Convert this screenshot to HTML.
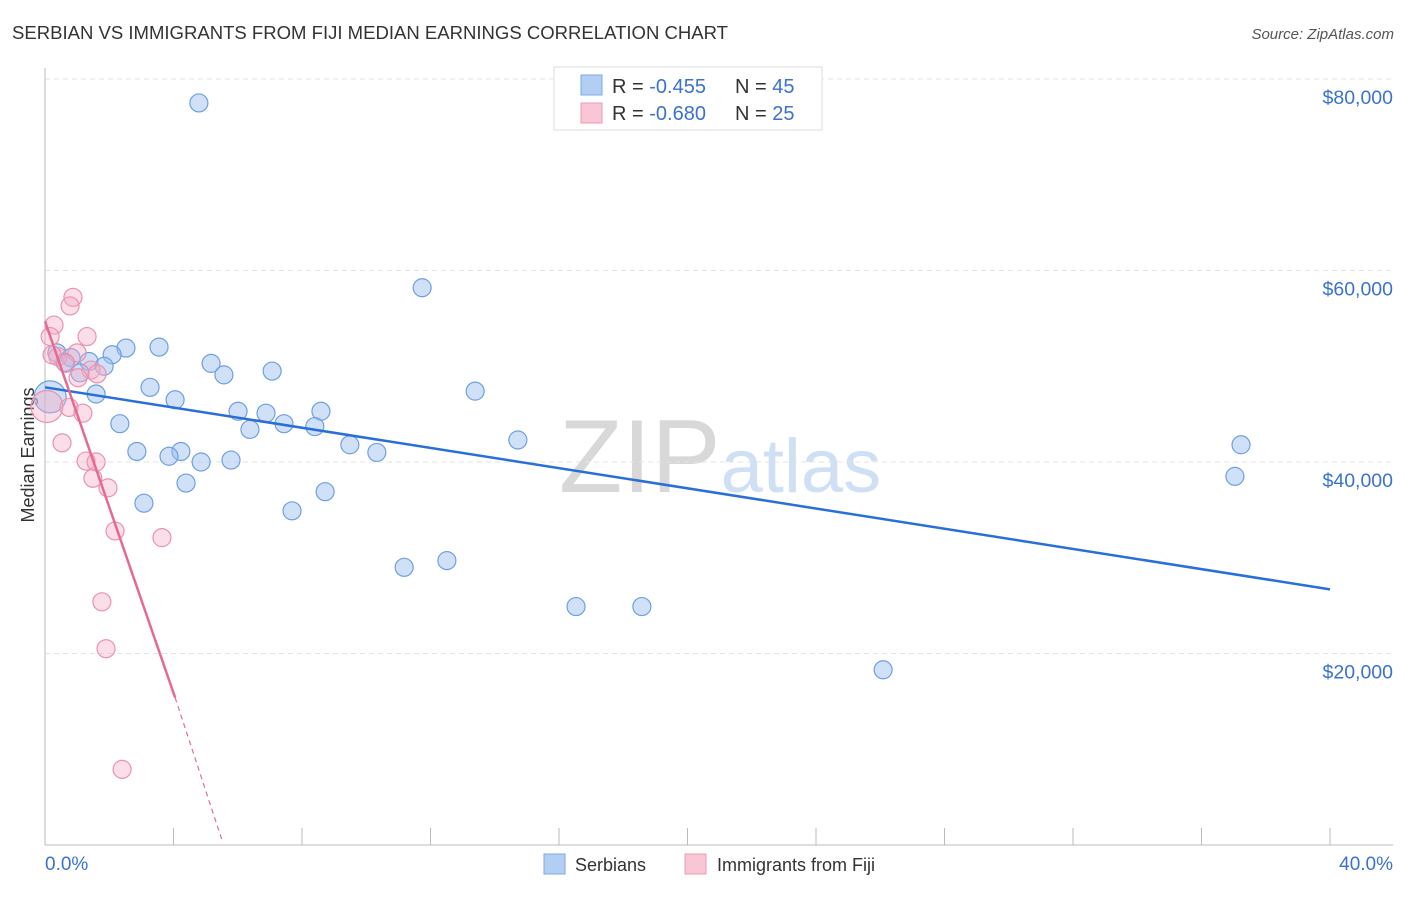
<!DOCTYPE html>
<html><head><meta charset="utf-8"><style>
body{margin:0;background:#fff;font-family:"Liberation Sans",sans-serif}
svg text{font-family:"Liberation Sans",sans-serif}
</style></head><body>
<svg id="c" width="1406" height="892" xmlns="http://www.w3.org/2000/svg">
<text x="12" y="39" font-size="18" fill="#333" textLength="716" lengthAdjust="spacingAndGlyphs">SERBIAN VS IMMIGRANTS FROM FIJI MEDIAN EARNINGS CORRELATION CHART</text>
<text x="1394" y="39" font-size="15" fill="#555" text-anchor="end" font-style="italic">Source: ZipAtlas.com</text>
<text x="720" y="492" font-size="104" text-anchor="middle" fill="#ddd" font-family="Liberation Serif"><tspan fill="#d8d8d8">ZIP</tspan><tspan fill="#cfe0f5" font-family="Liberation Sans" font-size="76">atlas</tspan></text>
<text transform="translate(34,455) rotate(-90)" font-size="18" fill="#333" text-anchor="middle">Median Earnings</text>
<g id="grid"></g><g id="marks"></g>
<g>
<rect x="554" y="67" width="268" height="63" fill="#fff" stroke="#ddd"/>
<rect x="581" y="75" width="21" height="20" fill="#b3cef3" stroke="#7ea8e6"/>
<text x="612" y="93" font-size="20" fill="#333">R = <tspan fill="#3b72d0">-0.455</tspan></text>
<text x="735" y="93" font-size="20" fill="#333">N = <tspan fill="#3b72d0">45</tspan></text>
<rect x="581" y="103" width="21" height="20" fill="#f9c6d6" stroke="#ec9ab4"/>
<text x="612" y="120" font-size="20" fill="#333">R = <tspan fill="#3b72d0">-0.680</tspan></text>
<text x="735" y="120" font-size="20" fill="#333">N = <tspan fill="#3b72d0">25</tspan></text>
</g>
<g>
<rect x="544" y="854" width="21" height="20" fill="#b3cef3" stroke="#7ea8e6"/>
<text x="575" y="871" font-size="18" fill="#333">Serbians</text>
<rect x="685" y="854" width="21" height="20" fill="#f9c6d6" stroke="#ec9ab4"/>
<text x="717" y="871" font-size="18" fill="#333">Immigrants from Fiji</text>
</g>
</svg>
<script>
const yTicks=[20000,40000,60000,80000];
const yTickLabels=["$20,000","$40,000","$60,000","$80,000"];
const xTicks=[0,4,8,12,16,20,24,28,32,36,40];
const serbX=[4.79,11.74,2.52,3.55,0.37,2.09,0.81,1.37,1.84,5.17,5.57,7.07,1.09,1.59,3.27,4.05,13.39,0.16,6.01,6.88,8.59,2.33,7.44,6.38,8.40,14.72,9.49,2.86,4.23,3.86,10.33,4.86,5.79,4.39,8.72,3.08,7.69,11.18,12.51,16.53,18.58,26.09,37.23,37.04,0.62];
const serbY=[77500,58200,51900,52000,51400,51200,50900,50500,50000,50300,49100,49500,49300,47100,47800,46500,47400,46800,45300,45100,45300,44000,44000,43400,43700,42300,41800,41100,41100,40600,41000,40000,40200,37800,36900,35700,34900,29000,29700,24900,24900,18300,41800,38500,50400];
const serbR=[9,9,9,9,9,9,9,9,9,9,9,9,9,9,9,9,9,16,9,9,9,9,9,9,9,9,9,9,9,9,9,9,9,9,9,9,9,9,9,9,9,9,9,9,9];
const fijiX=[0.87,0.78,0.28,0.16,1.31,1.0,0.4,0.65,1.43,1.03,1.62,0.06,0.75,1.18,0.53,1.28,1.59,1.49,1.96,2.18,3.64,1.77,1.9,2.4,0.22];
const fijiY=[57200,56300,54300,53100,53100,51400,51000,50300,49600,48800,49200,45800,45700,45100,42000,40100,40000,38300,37300,32800,32100,25400,20500,7900,51200];
const fijiR=[9,9,9,9,9,9,9,9,9,9,9,16,9,9,9,9,9,9,9,9,9,9,9,9,9];
const serbTrend=[[0,47800],[40,26700]];
const fijiTrend=[[0,54700],[4.05,15400]];
const fijiDash=[[4.05,15400],[5.51,500]];
const NS="http://www.w3.org/2000/svg";
const X=v=>45+v*32.125, Y=v=>845-v/20000*191.5;
function mk(t,a,p){const e=document.createElementNS(NS,t);for(const k in a)e.setAttribute(k,a[k]);p.appendChild(e);return e;}
const g=document.getElementById('grid'),m=document.getElementById('marks');
yTicks.forEach((v,i)=>{
 const l=mk('line',{x1:45,x2:1393,y1:Y(v),y2:Y(v),stroke:'#e3e3e3','stroke-dasharray':'5,4'},g);
 
 
 const t=mk('text',{x:1393,y:Y(v)+25,'font-size':19.5,fill:'#3b72d0','text-anchor':'end'},g);
 t.textContent=yTickLabels[i];
 
 
});
const ax=mk('line',{x1:45,x2:1393,y1:845,y2:845,stroke:'#bbb'},g);


const ay=mk('line',{x1:45,x2:45,y1:68,y2:845,stroke:'#bbb'},g);


xTicks.forEach(v=>{const t=mk('line',{x1:X(v),x2:X(v),y1:828,y2:845,stroke:'#bbb'},g);
 
 });
[[0,'0.0%','start',45],[40,'40.0%','end',1393]].forEach(d=>{const t=mk('text',{x:d[3],y:870,'font-size':19,fill:'#3b72d0','text-anchor':d[2]},g);t.textContent=d[1];
 
 });
serbX.forEach((v,i)=>{const c=mk('circle',{cx:X(v),cy:Y(serbY[i]),r:serbR[i],fill:'rgba(150,188,238,0.45)',stroke:'#6e9fe2','stroke-width':1.2},m);
 
 });
fijiX.forEach((v,i)=>{const c=mk('circle',{cx:X(v),cy:Y(fijiY[i]),r:fijiR[i],fill:'rgba(246,172,197,0.4)',stroke:'#ea92ae','stroke-width':1.2},m);
 
 });
const l1=mk('line',{x1:X(serbTrend[0][0]),y1:Y(serbTrend[0][1]),x2:X(serbTrend[1][0]),y2:Y(serbTrend[1][1]),stroke:'#2a6ed8','stroke-width':2.5},m);


const l2=mk('line',{x1:X(fijiTrend[0][0]),y1:Y(fijiTrend[0][1]),x2:X(fijiTrend[1][0]),y2:Y(fijiTrend[1][1]),stroke:'#e56a93','stroke-width':2.5},m);


const l3=mk('line',{x1:X(fijiDash[0][0]),y1:Y(fijiDash[0][1]),x2:X(fijiDash[1][0]),y2:Y(fijiDash[1][1]),stroke:'#e56a93','stroke-width':1.2,'stroke-dasharray':'5,4'},m);


</script>
</body></html>
